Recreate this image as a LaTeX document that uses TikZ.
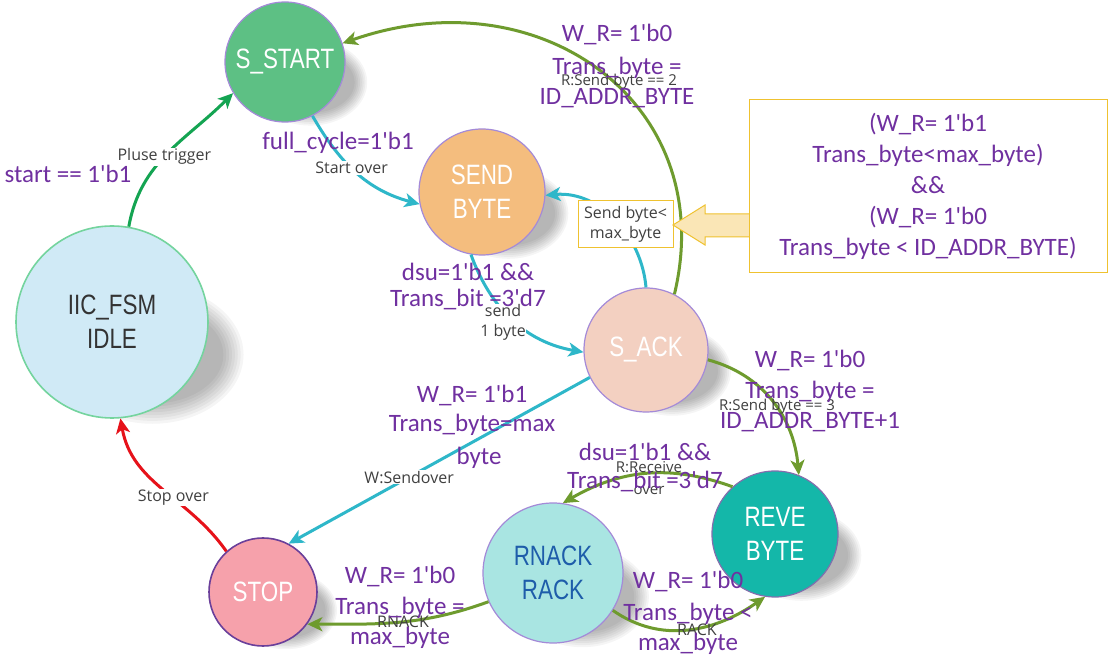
\documentclass[tikz,border=0pt]{standalone}
\usepackage{fontspec}
\setmainfont{Carlito}[Ligatures=TeXOff]
\newfontfamily\nfont[FakeStretch=0.8]{Liberation Sans}
\newfontfamily\gfont{Open Sans}
\usetikzlibrary{arrows.meta}
\definecolor{purp}{HTML}{7030A0}
\definecolor{greyc}{HTML}{404040}
\definecolor{cyanc}{HTML}{2EB7C9}
\definecolor{olivec}{HTML}{6E9B2E}
\definecolor{greenc}{HTML}{14A452}
\definecolor{redc}{HTML}{E6121A}
\definecolor{yelb}{HTML}{EFC230}
\definecolor{yelf}{HTML}{FAE6B6}
\definecolor{sstartf}{HTML}{5DC084}
\definecolor{sendf}{HTML}{F4BD7E}
\definecolor{idlef}{HTML}{D0EAF6}
\definecolor{idleb}{HTML}{74D49E}
\definecolor{sackf}{HTML}{F3D0C1}
\definecolor{revef}{HTML}{14B7A9}
\definecolor{rnackf}{HTML}{A9E5E2}
\definecolor{rnackt}{HTML}{1E5DAA}
\definecolor{stopf}{HTML}{F6A1AB}
\definecolor{stopb}{HTML}{6A3F9A}
\definecolor{lilac}{HTML}{A48AD8}
\newcommand\nodeshadow[3]{\foreach \k in {0,1,...,7}{\fill[black,opacity=0.04] ({#1+0.42*#3},{#2-0.34*#3}) ellipse ({(0.95-0.03*\k)*#3} and {(0.72-0.03*\k)*#3});}}
\tikzset{
  stnode/.style={circle, draw=lilac, line width=1.2pt, inner sep=0pt, align=center, text=white,
    font=\nfont\fontsize{28}{34}\selectfont},
  arr/.style={line width=3pt, -{Stealth[length=15pt,width=14pt,inset=4pt]}},
  cyanE/.style={arr, draw=cyanc},
  oliveE/.style={arr, draw=olivec},
  greenE/.style={arr, draw=greenc},
  redE/.style={arr, draw=redc},
  plab/.style={text=purp, font=\fontsize{25}{30}\selectfont, inner sep=0pt},
  glab/.style={text=greyc, font=\gfont\fontsize{16}{20}\selectfont, inner sep=1pt, align=center},
  glabw/.style={glab, fill=white},
}
\begin{document}
\begin{tikzpicture}[x=1pt,y=1pt]
\useasboundingbox (0,0) rectangle (1116,664);
\fill[white] (0,0) rectangle (1116,664);
% shadows
\nodeshadow{285}{602}{60}
\nodeshadow{482}{472}{63}
\nodeshadow{112}{342}{96}
\nodeshadow{646}{314}{62}
\nodeshadow{775}{130}{63}
\nodeshadow{553}{91}{70}
\nodeshadow{263}{72}{54}
% states
\node[stnode, fill=sstartf, minimum size=120pt] (sstart) at (285,602) {S\_START};
\node[stnode, fill=sendf, minimum size=126pt] (sendb) at (482,472) {SEND\\BYTE};
\node[stnode, fill=idlef, draw=idleb, line width=1.6pt, text=greyc!80!black, minimum size=192pt] (idle) at (112,342) {IIC\_FSM\\IDLE};
\node[stnode, fill=sackf, minimum size=124pt] (sack) at (646,314) {S\_ACK};
\node[stnode, fill=revef, draw=lilac!80!black, minimum size=126pt] (reve) at (775,130) {REVE\\BYTE};
\node[stnode, fill=rnackf, text=rnackt, minimum size=140pt] (rnack) at (553,91) {RNACK\\RACK};
\node[stnode, fill=stopf, draw=stopb, line width=1.6pt, minimum size=108pt] (stop) at (263,72) {STOP};
% transitions
\draw[greenE] (idle.80) to[out=80,in=225] node[glabw, pos=0.47] (lpulse) {Pluse trigger} (sstart.211);
\draw[cyanE] (sstart.297) to[out=-60,in=165] node[glabw, pos=0.45] (lstartover) {Start over} (sendb.191);
\draw[cyanE] (sendb.260) to[out=-70,in=170] (sack.182);
\node[glabw, inner sep=0pt] (lsend) at (503,342) {send\\1 byte};
\draw[cyanE] (sack.90) to[out=95,in=5] (sendb.357);
\node[glab, fill=white, draw=yelb, line width=1pt, minimum width=95pt, minimum height=47pt, inner sep=0pt] (lsendlt) at (625.5,439.5) {Send byte<\\max\_byte};
\draw[oliveE] (sack.63) .. controls (720,560) and (540,690) .. (sstart.18);
\draw[oliveE] (sack.-9) to[out=-15,in=95] (reve.68);
\draw[cyanE] (sack.206) -- node[glabw, pos=0.6] (lsendover) {W:Sendover} (stop.62);
\draw[oliveE] (reve.132) to[out=160,in=30] (rnack.82);
\draw[oliveE] (rnack.-32) to[out=-35,in=215] (reve.261);
\draw[oliveE] (rnack.204) to[out=200,in=0] (stop.-36);
\draw[redE] (stop.132) to[out=125,in=-80] node[glabw, pos=0.42] (lstopover) {Stop over} (idle.275);
% unfilled grey labels
\node[glab, font=\gfont\fontsize{15}{18}\selectfont] (lsb2) at (619,582) {R:Send byte == 2};
\node[glab, font=\gfont\fontsize{15}{18}\selectfont] (lsb3) at (777,257) {R:Send byte == 3};
\node[glab, font=\gfont\fontsize{15}{22}\selectfont] (lrecv) at (649,186) {R:Receive\\over};
\node[glab] (lrack) at (697,34) {RACK};
\node[glab] (lrnack) at (403,42) {RNACK};
% condition box and block arrow
\draw[yelb, fill=yelf, line width=1pt] (673,439) -- (705,459) -- (705,450) -- (750,450) -- (750,427) -- (705,427) -- (705,419) -- cycle;
\node[draw=yelb, line width=1pt, fill=white, minimum width=358pt, minimum height=173pt, inner sep=0pt,
  text=purp, align=center, font=\fontsize{25}{31}\selectfont] (condbox) at (928,477.5)
  {(W\_R= 1'b1\\Trans\_byte<max\_byte)\\\&\&\\(W\_R= 1'b0\\Trans\_byte < ID\_ADDR\_BYTE)};
% purple condition labels
\node[plab] (c1) at (68,490) {start == 1'b1};
\node[plab] (c2) at (338,521) {full\_cycle=1'b1};
\node[plab] (c3a) at (468,392) {dsu=1'b1 \&\&};
\node[plab] (c3b) at (468,364) {Trans\_bit =3'd7};
\node[plab] (c4a) at (617,629) {W\_R= 1'b0};
\node[plab] (c4b) at (617,596) {Trans\_byte =};
\node[plab] (c4c) at (617,566) {ID\_ADDR\_BYTE};
\node[plab] (c5a) at (810,303) {W\_R= 1'b0};
\node[plab] (c5b) at (810,272) {Trans\_byte =};
\node[plab] (c5c) at (810,242) {ID\_ADDR\_BYTE+1};
\node[plab] (c6a) at (472,268) {W\_R= 1'b1};
\node[plab] (c6b) at (472,239) {Trans\_byte=max};
\node[plab] (c6c) at (479,206) {byte};
\node[plab] (c7a) at (645,212) {dsu=1'b1 \&\&};
\node[plab] (c7b) at (645,182) {Trans\_bit =3'd7};
\node[plab] (c8a) at (688,83) {W\_R= 1'b0};
\node[plab] (c8b) at (688,50) {Trans\_byte <};
\node[plab] (c8c) at (688,20) {max\_byte};
\node[plab] (c9a) at (400,88) {W\_R= 1'b0};
\node[plab] (c9b) at (400,56) {Trans\_byte =};
\node[plab] (c9c) at (400,26) {max\_byte};
\end{tikzpicture}
\end{document}
